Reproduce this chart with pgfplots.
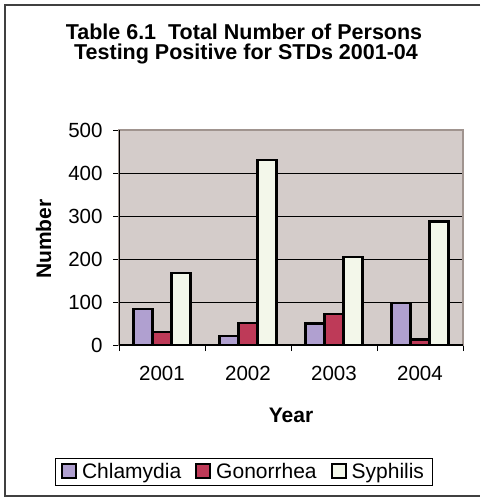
\documentclass[border=0pt]{standalone}
\usepackage{pgfplots}
\pgfplotsset{compat=1.18}
\usepackage{fontspec}
\setmainfont{Liberation Sans}

\definecolor{chl}{HTML}{B0A0D0}
\definecolor{gon}{HTML}{BE3A58}
\definecolor{syp}{HTML}{F3F7EA}
\definecolor{plotbg}{HTML}{D4CCCA}
\definecolor{plotedge}{HTML}{A0948F}
\definecolor{frame}{HTML}{404040}

\begin{document}
\begin{tikzpicture}
% page box 480 x 498 (1pt = 1px), origin top left
\path[use as bounding box] (0pt,0pt) rectangle (480pt,-498pt);
\draw[frame, line width=1.5pt] (480pt,-5pt) -- (5pt,-5pt) -- (5pt,-496pt) -- (480pt,-496pt);

\node[font=\fontsize{21.5}{24}\selectfont\bfseries, anchor=base] at (244pt,-39.3pt)
  {Table 6.1\ \ Total Number of Persons};
\node[font=\fontsize{21.5}{24}\selectfont\bfseries, anchor=base] at (246pt,-59.3pt)
  {Testing Positive for STDs 2001-04};

\node[font=\fontsize{21}{24}\selectfont\bfseries, rotate=90, anchor=base] at (51pt,-239pt) {Number};
\node[font=\fontsize{21}{24}\selectfont\bfseries, anchor=base] at (291pt,-422pt) {Year};

\begin{axis}[
    at={(119pt,-345pt)}, anchor=south west,
    scale only axis, width=344pt, height=215pt,
    ybar=0pt, bar width=19pt,
    xmin=-0.5, xmax=3.5, ymin=0, ymax=500,
    enlargelimits=false,
    axis background/.style={fill=plotbg},
    axis line style={plotedge, line width=1.5pt},
    xtick={0,1,2,3},
    xticklabels={2001,2002,2003,2004},
    minor xtick={-0.5,0.5,1.5,2.5,3.5},
    major x tick style={draw=none},
    minor x tick style={black, line width=0.8pt},
    minor tick length=6pt,
    ytick={0,100,...,500},
    y tick style={black, line width=0.8pt},
    major tick length=6pt,
    tick align=outside, tick pos=left,
    ymajorgrids, grid style={black, line width=0.8pt},
    tick label style={font=\fontsize{20.5}{22}\selectfont},
    xticklabel style={yshift=-12pt},
    yticklabel style={xshift=-7pt},
    /pgf/number format/assume math mode=true,
    legend style={at={(0.362,-0.591)}, anchor=center, draw=black, line width=0.8pt,
        legend columns=-1, font=\fontsize{21}{22}\selectfont,
        inner xsep=6pt, inner ysep=3pt,
        /tikz/every odd column/.append style={column sep=3pt},
        /tikz/every even column/.append style={column sep=12pt}},
    legend image code/.code={\draw[#1, line width=2pt] (0pt,-6pt) rectangle (14pt,8pt);},
]
\addplot[draw=black, line width=2.2pt, fill=chl] coordinates {(0,83) (1,21) (2,50) (3,97)};
\addplot[draw=black, line width=2.2pt, fill=gon] coordinates {(0,31) (1,52) (2,72) (3,13)};
\addplot[draw=black, line width=2.2pt, fill=syp] coordinates {(0,168) (1,430) (2,205) (3,287)};
\legend{Chlamydia, Gonorrhea, Syphilis}
\draw[black, line width=1.2pt] (rel axis cs:0,1) -- (rel axis cs:0,0) -- (rel axis cs:1,0);
\end{axis}
\end{tikzpicture}
\end{document}
